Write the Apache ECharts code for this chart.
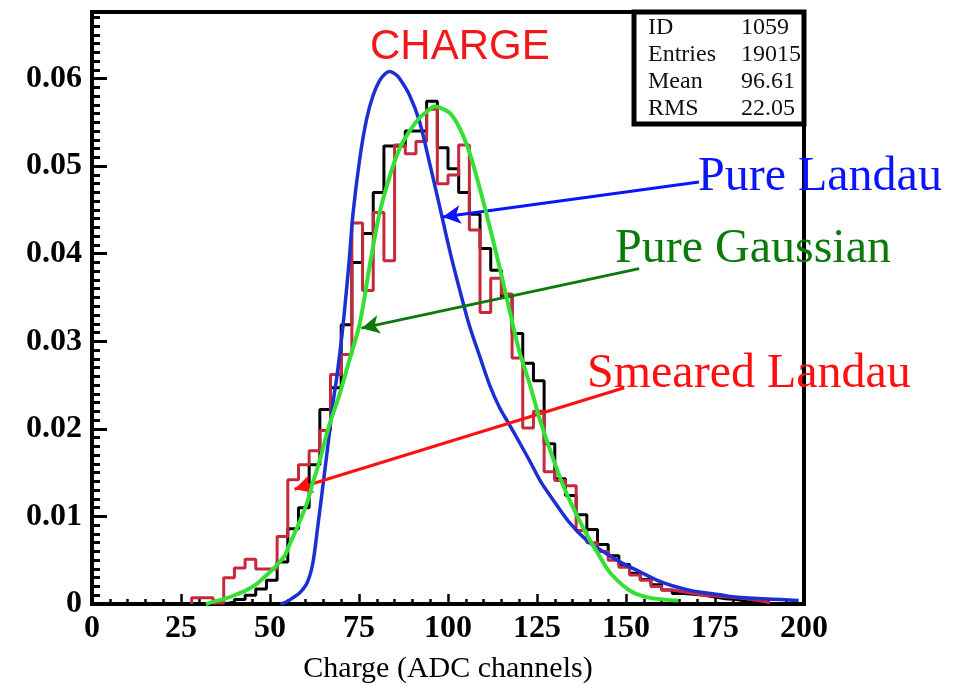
<!DOCTYPE html>
<html>
<head>
<meta charset="utf-8">
<script src="https://cdn.jsdelivr.net/npm/echarts@6/dist/echarts.min.js"></script>
<style>
  html, body { margin: 0; padding: 0; background: #ffffff; }
  #chart { width: 958px; height: 689px; }
</style>
</head>
<body>
<div id="chart"></div>
<script>
// Bin boundaries of the charge histograms (ADC channels)
const binEdges = [28, 31, 34, 37, 40, 43, 46, 49, 52, 55, 58, 61, 64, 67, 70, 73, 76, 79, 82, 85,
  88, 91, 94, 97, 100, 103, 106, 109, 112, 115, 118, 121, 124, 127, 130, 133, 136, 139, 142, 145,
  148, 151, 154, 157, 160, 163, 166, 169, 172, 175, 178, 181, 184, 187, 190, 193, 196, 199];

// Measured charge distribution (normalised)
const dataCounts = [0, 0, 0, 0.0002, 0.0005, 0.0010, 0.0017, 0.0027, 0.0048, 0.0086,
  0.0110, 0.0159, 0.0222, 0.0247, 0.0319, 0.0390, 0.0423, 0.0470, 0.0523, 0.0523,
  0.0540, 0.0540, 0.0574, 0.0521, 0.0497, 0.0470, 0.0445, 0.0406, 0.0381, 0.0351,
  0.0309, 0.0275, 0.0255, 0.0183, 0.0143, 0.0124, 0.0102, 0.0085, 0.0068, 0.0055,
  0.0045, 0.0035, 0.0028, 0.0022, 0.0016, 0.0012, 0.0011, 0.0010, 0.0008, 0.0006,
  0.0005, 0.0003, 0.0002, 0, 0, 0, 0];

// Smeared Landau simulation
const smearedCounts = [0.0007, 0.0007, 0.0001, 0.0030, 0.0041, 0.0051, 0.0040, 0.0040, 0.0077, 0.0142,
  0.0159, 0.0175, 0.0198, 0.0262, 0.0285, 0.0435, 0.0358, 0.0447, 0.0392, 0.0524,
  0.0514, 0.0528, 0.0565, 0.0480, 0.0490, 0.0524, 0.0427, 0.0333, 0.0372, 0.0354,
  0.0281, 0.0201, 0.0220, 0.0151, 0.0141, 0.0135, 0.0084, 0.0070, 0.0060, 0.0050,
  0.0042, 0.0033, 0.0027, 0.0020, 0.0016, 0.0014, 0.0012, 0.0010, 0.0009, 0.0008,
  0.0007, 0.0006, 0.0004, 0.0002, 0, 0, 0];

// Pure Landau curve
const landauX = [52.9, 54.4, 56.4, 58.4, 60.4, 62.0, 63.4, 64.8, 66.3, 67.7, 68.8, 70.3, 71.4, 72.3,
  73.3, 75.2, 77.1, 78.9, 80.7, 82.2, 83.6, 85.2, 86.4, 89.2, 92.0, 94.8, 97.6, 100.4, 103.2,
  106.0, 108.9, 111.7, 114.4, 117.2, 120.0, 123.0, 126.0, 129.0, 133.9, 138.9, 143.9, 148.8,
  153.8, 158.8, 163.7, 168.7, 173.7, 178.7, 183.6, 188.6, 193.6, 198.5];
const landauY = [0, 0.0002, 0.0007, 0.0013, 0.0024, 0.0046, 0.0088, 0.0133, 0.0182, 0.0230, 0.0260,
  0.0310, 0.0355, 0.0395, 0.0445, 0.0508, 0.0553, 0.0580, 0.0597, 0.0605, 0.0608, 0.0605, 0.0600,
  0.0581, 0.0551, 0.0504, 0.0455, 0.0405, 0.0360, 0.0318, 0.0283, 0.0250, 0.0225, 0.0205, 0.0185,
  0.0163, 0.0140, 0.0122, 0.0094, 0.0073, 0.0059, 0.0047, 0.0037, 0.0027, 0.0020, 0.0015, 0.0012,
  0.0009, 0.0007, 0.0006, 0.0005, 0.0004];

// Pure Gaussian curve
const gaussX = [32.0, 34.5, 37.3, 40.0, 43.0, 46.0, 48.5, 50.9, 54.1, 55.5, 57.9, 60.3, 62.0, 63.9,
  66.7, 69.6, 72.4, 75.2, 78.0, 80.7, 83.6, 86.4, 89.2, 92.0, 94.9, 96.1, 97.6, 100.4, 103.2,
  106.0, 108.9, 111.7, 114.4, 117.2, 120.0, 122.9, 125.7, 129.0, 131.9, 134.9, 138.9, 142.5,
  145.3, 148.1, 150.8, 153.8, 156.8, 160.8, 164.7];
const gaussY = [0, 0.0003, 0.0006, 0.0010, 0.0015, 0.0022, 0.0031, 0.0040, 0.0055, 0.0068, 0.0090,
  0.0114, 0.0138, 0.0163, 0.0205, 0.0240, 0.0280, 0.0320, 0.0386, 0.0445, 0.0488, 0.0520, 0.0540,
  0.0555, 0.0565, 0.0568, 0.0567, 0.0561, 0.0544, 0.0516, 0.0475, 0.0431, 0.0386, 0.0337, 0.0289,
  0.0252, 0.0212, 0.0172, 0.0140, 0.0112, 0.0080, 0.0055, 0.0037, 0.0025, 0.0016, 0.0010, 0.0007,
  0.0005, 0.0004];

// Statistics box entries
const statLabels = ['ID', 'Entries', 'Mean', 'RMS'];
const statValues = ['1059', '19015', '96.61', '22.05'];

// Annotation arrows: [tail x, tail y, head x, head y] in data units
const arrowLandau = [170.5, 0.0482, 98.5, 0.0442];
const arrowGauss = [153.7, 0.0383, 75.7, 0.0315];
const arrowSmeared = [149.5, 0.0247, 56.9, 0.0131];

// Outline of a histogram, closed down to zero after the last filled bin
function stepData(edges, h) {
  let last = h.length - 1;
  while (last > 0 && h[last] === 0) last--;
  const pts = [[edges[0], 0]];
  for (let i = 0; i <= last; i++) pts.push([edges[i], h[i]]);
  pts.push([edges[last + 1], h[last]]);
  pts.push([edges[last + 1], 0]);
  return pts;
}
function zip(xs, ys) { return xs.map((x, i) => [x, ys[i]]); }

const SERIF = "'Liberation Serif', 'Times New Roman', serif";
const SANS = "'Liberation Sans', Arial, sans-serif";

const chart = echarts.init(document.getElementById('chart'), null, { renderer: 'canvas' });

function arrow(a, color) {
  return [
    { coord: [a[0], a[1]], symbol: 'none', lineStyle: { color: color, width: 3, type: 'solid' } },
    { coord: [a[2], a[3]], symbol: 'arrow', symbolSize: [14, 18] }
  ];
}

const option = {
  backgroundColor: '#ffffff',
  animation: false,
  grid: {
    left: 92, right: 154, top: 12, bottom: 82,
    show: true, borderColor: '#000', borderWidth: 4, backgroundColor: '#ffffff'
  },
  xAxis: {
    type: 'value', min: 0, max: 200, interval: 25,
    axisLine: { show: true, onZero: false, lineStyle: { color: '#000', width: 4 } },
    axisTick: { show: true, inside: true, length: 10, lineStyle: { color: '#000', width: 2.5 } },
    minorTick: { show: true, splitNumber: 5, length: 5, lineStyle: { color: '#000', width: 2.5 } },
    splitLine: { show: false },
    axisLabel: { color: '#000', fontFamily: SERIF, fontWeight: 'bold', fontSize: 32, margin: 9 },
    name: 'Charge (ADC channels)', nameLocation: 'middle', nameGap: 50,
    nameTextStyle: { color: '#000', fontFamily: SERIF, fontSize: 30 }
  },
  yAxis: [
    {
      type: 'value', min: 0, max: 0.0676, interval: 0.01,
      axisLine: { show: true, lineStyle: { color: '#000', width: 4 } },
      axisTick: { show: true, inside: true, length: 15, lineStyle: { color: '#000', width: 3 } },
      splitLine: { show: false },
      axisLabel: {
        color: '#000', fontFamily: SERIF, fontWeight: 'bold', fontSize: 32, margin: 10,
        formatter: function (v) {
          if (v === 0) return '0';
          const r = Math.round(v * 100);
          return Math.abs(v * 100 - r) < 1e-6 ? (r / 100).toFixed(2) : '';
        }
      }
    },
    {
      type: 'value', min: 0, max: 0.0676, interval: 0.001, position: 'left',
      axisLine: { show: false },
      axisTick: { show: true, inside: true, length: 8, lineStyle: { color: '#000', width: 3 } },
      axisLabel: { show: false },
      splitLine: { show: false }
    }
  ],
  series: [
    {
      name: 'Data', type: 'line', step: 'end', data: stepData(binEdges, dataCounts),
      showSymbol: false, lineStyle: { color: '#000000', width: 3 }, z: 2
    },
    {
      name: 'Smeared Landau', type: 'line', step: 'end', data: stepData(binEdges, smearedCounts),
      showSymbol: false, lineStyle: { color: '#c8283c', width: 3 }, z: 3
    },
    {
      name: 'Pure Landau', type: 'line', smooth: 0.3, data: zip(landauX, landauY),
      showSymbol: false, lineStyle: { color: '#1c2fd2', width: 3.5 }, z: 4
    },
    {
      name: 'Pure Gaussian', type: 'line', smooth: 0.3, data: zip(gaussX, gaussY),
      showSymbol: false, lineStyle: { color: '#33e033', width: 4 }, z: 5
    },
    {
      name: 'Arrows', type: 'line', data: [], z: 10,
      markLine: {
        silent: true, animation: false, label: { show: false },
        data: [
          arrow(arrowLandau, '#0a14ff'),
          arrow(arrowGauss, '#0a7a0a'),
          arrow(arrowSmeared, '#ff1010')
        ]
      }
    }
  ],
  graphic: [
    { type: 'text', left: 370, top: 26, z: 20,
      style: { text: 'CHARGE', fill: '#f01818', font: '42px ' + SANS } },
    { type: 'text', left: 698, top: 153, z: 20,
      style: { text: 'Pure Landau', fill: '#0a14ff', font: '48px ' + SERIF } },
    { type: 'text', left: 615, top: 225, z: 20,
      style: { text: 'Pure Gaussian', fill: '#0a7a0a', font: '48px ' + SERIF } },
    { type: 'text', left: 587, top: 350, z: 20,
      style: { text: 'Smeared Landau', fill: '#ff1010', font: '48px ' + SERIF } },
    { type: 'rect', z: 20,
      shape: { x: 634, y: 12, width: 170, height: 112 },
      style: { fill: '#ffffff', stroke: '#000', lineWidth: 5 } }
  ].concat(statLabels.map((s, i) => ({
    type: 'text', z: 21, left: 648, top: 16 + i * 27,
    style: { text: s, fill: '#111', font: '24px ' + SERIF }
  }))).concat(statValues.map((s, i) => ({
    type: 'text', z: 21, left: 741, top: 16 + i * 27,
    style: { text: s, fill: '#111', font: '24px ' + SERIF }
  })))
};

chart.setOption(option);
</script>
</body>
</html>
